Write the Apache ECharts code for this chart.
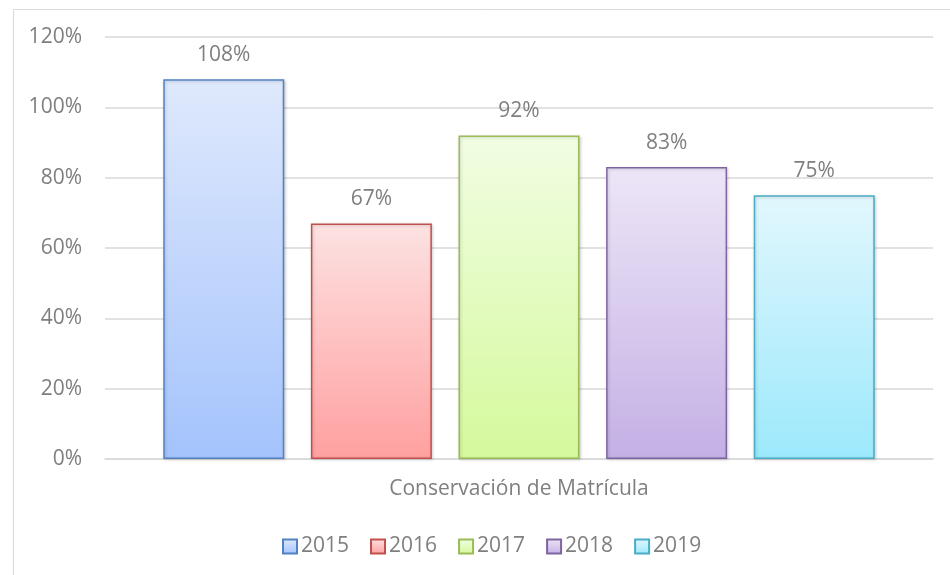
<!DOCTYPE html>
<html>
<head>
<meta charset="utf-8">
<script src="https://cdn.jsdelivr.net/npm/echarts@6/dist/echarts.min.js"></script>
<style>
  html, body { margin: 0; padding: 0; background: #fff; }
  #chart { width: 950px; height: 575px; }
</style>
</head>
<body>
<div id="chart"></div>
<script>
// data
var categories = ['Conservación de Matrícula'];
var years = ['2015', '2016', '2017', '2018', '2019'];
var values = [108, 67, 92, 83, 75];
var yTicks = [0, 20, 40, 60, 80, 100, 120];

// gradient top / bottom and border for each year
var topColors = ['#dfe9fc', '#fde2e2', '#f1fde3', '#ede6f7', '#e2f7fd'];
var bottomColors = ['#a4c3fc', '#ffa0a0', '#d5f99c', '#c4b0e5', '#9ce9fc'];
var borderColors = ['#5382c4', '#c0504d', '#9bbb59', '#8064a2', '#4bacc6'];

var FONT = 'Open Sans';
var chart = echarts.init(document.getElementById('chart'));

var series = [];
for (var i = 0; i < years.length; i++) {
  series.push({
    name: years[i],
    type: 'bar',
    data: [values[i]],
    barWidth: 121,
    barGap: '22%',
    itemStyle: {
      color: new echarts.graphic.LinearGradient(0, 0, 0, 1, [
        { offset: 0, color: topColors[i] },
        { offset: 1, color: bottomColors[i] }
      ]),
      borderColor: borderColors[i],
      borderWidth: 1.5,
      shadowColor: 'rgba(0,0,0,0.18)',
      shadowBlur: 3,
      shadowOffsetX: 1,
      shadowOffsetY: 1
    },
    label: {
      show: true,
      position: 'top',
      distance: 14,
      formatter: '{c}%',
      color: '#7f7f7f',
      fontSize: 21,
      fontFamily: FONT
    }
  });
}

chart.setOption({
  animation: false,
  backgroundColor: '#fff',
  graphic: [{
    type: 'rect',
    left: 11,
    top: 7,
    shape: { width: 960, height: 590 },
    style: { fill: 'none', stroke: '#d9d9d9', lineWidth: 1 },
    z: -1
  }],
  grid: { left: 105, right: 17, top: 37, bottom: 116 },
  legend: {
    data: years,
    left: 277,
    top: 531,
    icon: 'rect',
    itemWidth: 14,
    itemHeight: 14,
    itemGap: 21,
    textStyle: { color: '#7f7f7f', fontSize: 21, fontFamily: FONT, padding: [0, 0, 0, -1] }
  },
  xAxis: {
    type: 'category',
    data: categories,
    axisLine: { lineStyle: { color: '#d9d9d9', width: 1.5 } },
    axisTick: { show: false },
    axisLabel: { color: '#7f7f7f', fontSize: 21, fontFamily: FONT, margin: 20 }
  },
  yAxis: {
    type: 'value',
    min: yTicks[0],
    max: yTicks[yTicks.length - 1],
    interval: 20,
    axisLine: { show: false },
    axisTick: { show: false },
    splitLine: { lineStyle: { color: '#d9d9d9', width: 1.5 } },
    axisLabel: {
      color: '#7f7f7f',
      fontSize: 21,
      fontFamily: FONT,
      margin: 23,
      formatter: '{value}%'
    }
  },
  series: series
});
</script>
</body>
</html>
